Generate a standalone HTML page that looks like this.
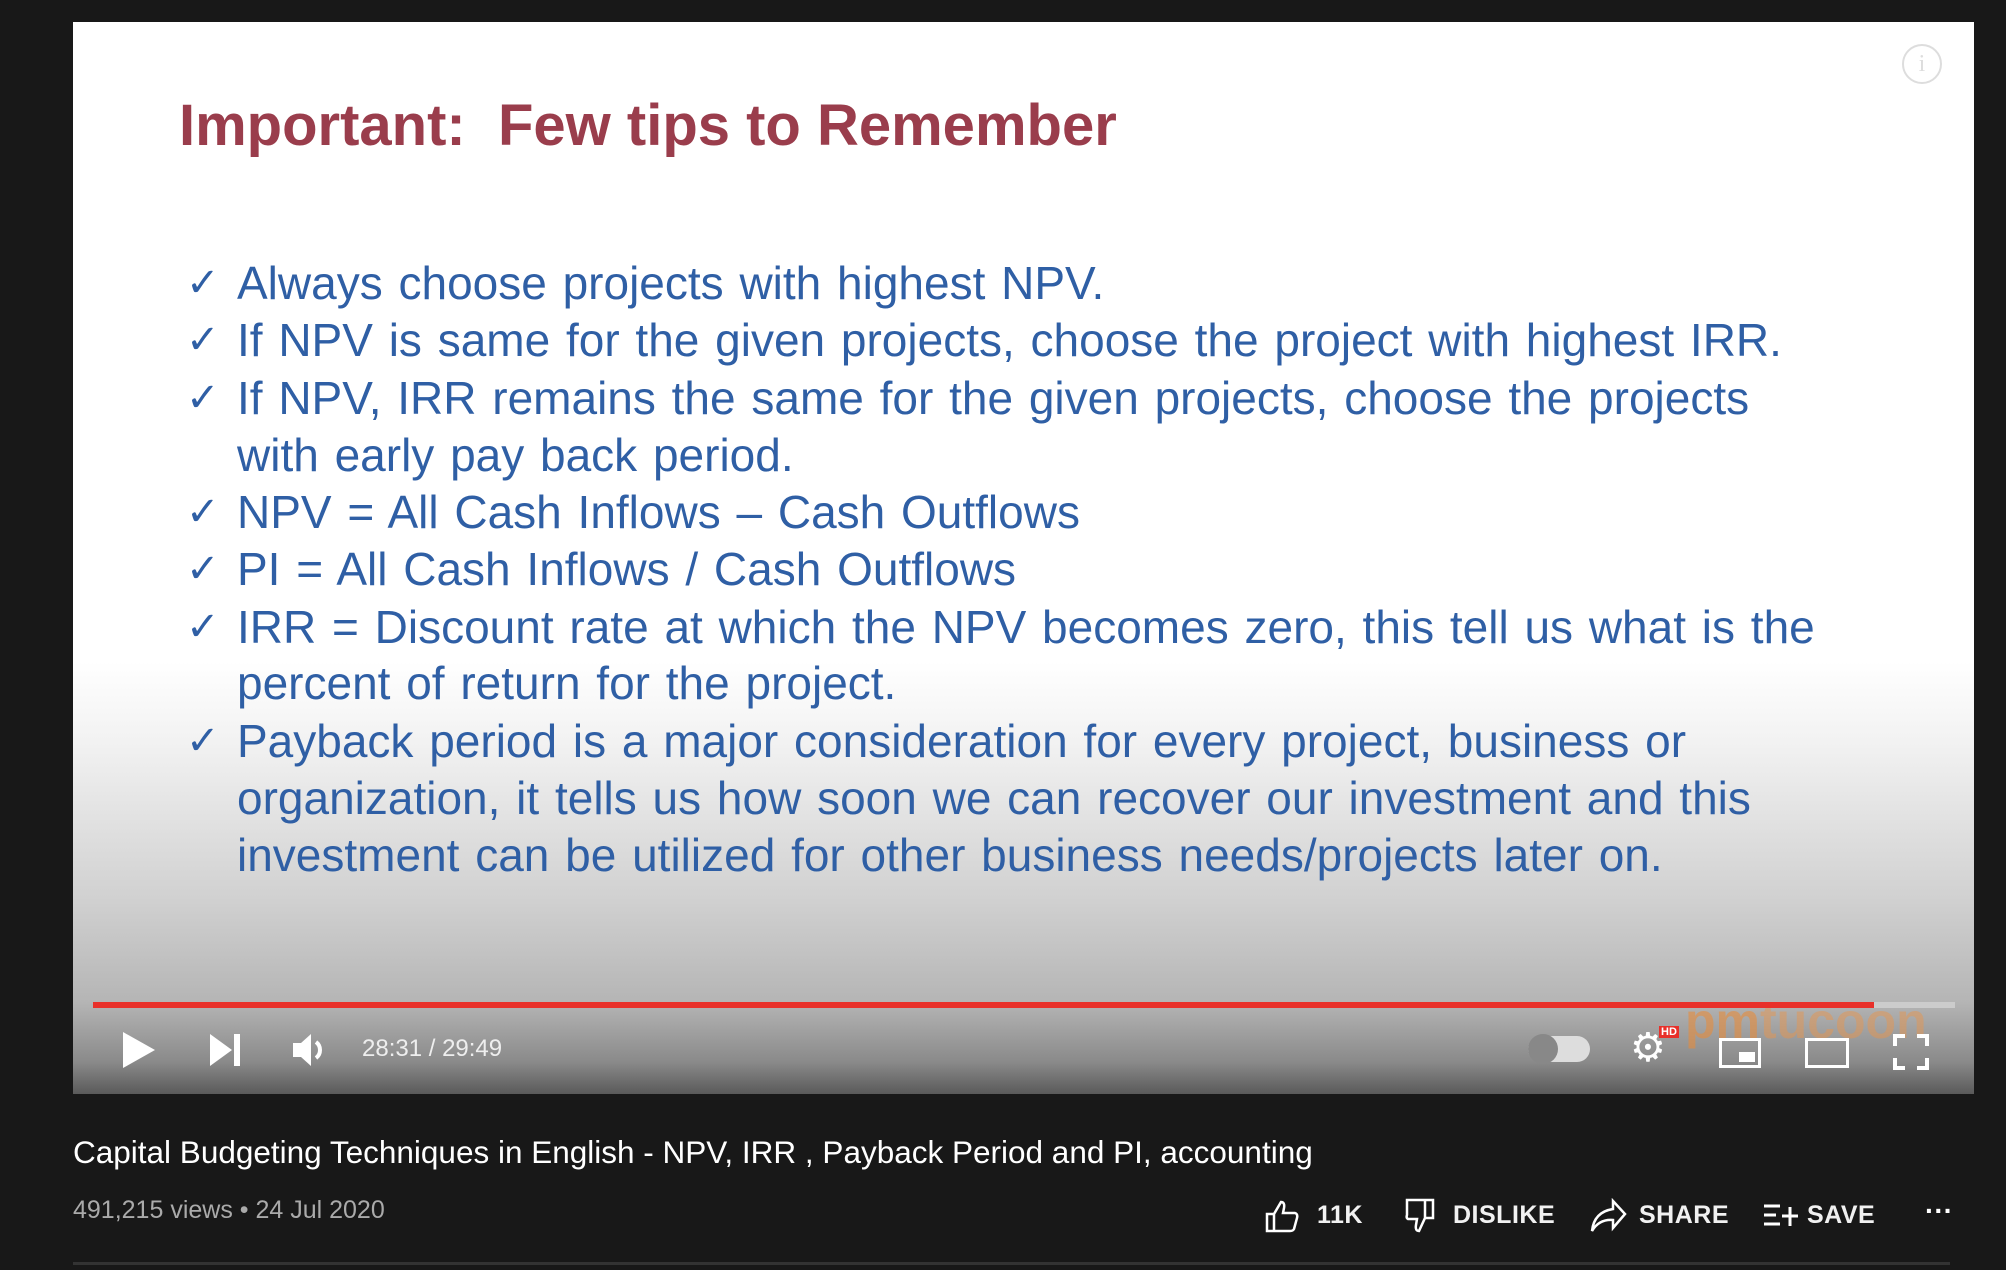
<!DOCTYPE html>
<html><head><meta charset="utf-8">
<style>
body{margin:0;width:2006px;height:1270px;background:#181818;overflow:hidden;font-family:"Liberation Sans",sans-serif;position:relative}
.abs{position:absolute}
#video{left:73px;top:22px;width:1901px;height:1072px;background:linear-gradient(to bottom,#fff 0px,#fff 640px,#f2f2f2 720px,#d0d0d0 880px,#b5b5b5 980px,#8a8a8a 1040px,#5a5a5a 1072px);overflow:hidden}
.line{position:absolute;left:164px;font-size:46px;color:#2f5fa5;white-space:nowrap;height:56px;line-height:56px;word-spacing:3px}
.chk{position:absolute;left:113px;font-size:40px;color:#2f5fa5;height:56px;line-height:56px}
.ctl{position:absolute}
.btxt{position:absolute;color:#f1f1f1;font-weight:bold;font-size:25px;top:1201px;letter-spacing:0.5px}
</style></head><body>
<div id="video" class="abs">
 <div class="abs" style="left:106px;top:70px;font-size:58px;font-weight:bold;color:#9a3d4c;white-space:nowrap">Important:&nbsp; Few tips to Remember</div>
 <div class="chk" style="top:233px">✓</div>
 <div class="line" style="top:233px">Always choose projects with highest NPV.</div>
 <div class="chk" style="top:290px">✓</div>
 <div class="line" style="top:290px">If NPV is same for the given projects, choose the project with highest IRR.</div>
 <div class="chk" style="top:348px">✓</div>
 <div class="line" style="top:348px">If NPV, IRR remains the same for the given projects, choose the projects</div>
 <div class="line" style="top:405px">with early pay back period.</div>
 <div class="chk" style="top:462px">✓</div>
 <div class="line" style="top:462px">NPV = All Cash Inflows – Cash Outflows</div>
 <div class="chk" style="top:519px">✓</div>
 <div class="line" style="top:519px">PI = All Cash Inflows / Cash Outflows</div>
 <div class="chk" style="top:577px">✓</div>
 <div class="line" style="top:577px">IRR = Discount rate at which the NPV becomes zero, this tell us what is the</div>
 <div class="line" style="top:633px">percent of return for the project.</div>
 <div class="chk" style="top:691px">✓</div>
 <div class="line" style="top:691px">Payback period is a major consideration for every project, business or</div>
 <div class="line" style="top:748px">organization, it tells us how soon we can recover our investment and this</div>
 <div class="line" style="top:805px">investment can be utilized for other business needs/projects later on.</div>
 <div class="abs" style="left:1829px;top:22px;width:36px;height:36px;border:2px solid #ddd;border-radius:50%;color:#ddd;font-size:24px;text-align:center;line-height:36px;font-family:'Liberation Serif',serif">i</div>
 <div class="abs" style="left:1612px;top:970px;font-size:50px;font-weight:bold;color:rgba(230,140,60,0.6);white-space:nowrap">pm<span style="color:rgba(230,150,80,0.5)">tucoon</span></div>
 <div class="abs" style="left:20px;top:980px;width:1862px;height:6px;background:#ccc"></div>
 <div class="abs" style="left:20px;top:980px;width:1781px;height:6px;background:#e8302a"></div>
 <svg class="ctl" style="left:46px;top:1008px" width="40" height="40"><polygon points="4,2 36,20 4,38" fill="#fff"/></svg>
 <svg class="ctl" style="left:135px;top:1010px" width="36" height="36"><polygon points="2,2 24,18 2,34" fill="#fff"/><rect x="26" y="2" width="6" height="32" fill="#fff"/></svg>
 <svg class="ctl" style="left:218px;top:1008px" width="40" height="40"><polygon points="2,13 10,13 20,4 20,36 10,27 2,27" fill="#fff"/><path d="M25 12 A10 10 0 0 1 25 28" stroke="#fff" stroke-width="4" fill="none"/></svg>
 <div class="ctl" style="left:289px;top:1013px;font-size:24px;color:#eee">28:31 / 29:49</div>
 <div class="ctl" style="left:1455px;top:1014px;width:62px;height:26px;border-radius:13px;background:#ddd"><div style="position:absolute;left:0;top:-2px;width:30px;height:30px;border-radius:50%;background:#888"></div></div>
 <div class="ctl" style="left:1557px;top:1006px;font-size:40px;color:#fff;line-height:40px">⚙</div>
 <div class="ctl" style="left:1586px;top:1004px;background:#e8302a;color:#fff;font-size:11px;font-weight:bold;padding:0 2px">HD</div>
 <div class="ctl" style="left:1646px;top:1016px;width:36px;height:24px;border:3px solid #fff"><div style="position:absolute;right:3px;bottom:3px;width:16px;height:10px;background:#fff"></div></div>
 <div class="ctl" style="left:1732px;top:1016px;width:38px;height:24px;border:3px solid #fff"></div>
 <svg class="ctl" style="left:1820px;top:1012px" width="36" height="36"><path d="M2 12V2H12M24 2H34V12M34 24V34H24M12 34H2V24" stroke="#fff" stroke-width="4" fill="none"/></svg>
</div>
<div class="abs" style="left:73px;top:1134px;font-size:31.5px;color:#fff;white-space:nowrap">Capital Budgeting Techniques in English - NPV, IRR , Payback Period and PI, accounting</div>
<div class="abs" style="left:73px;top:1196px;font-size:25px;color:#aaa;white-space:nowrap">491,215 views • 24 Jul 2020</div>
<svg class="abs" style="left:1265px;top:1198px" width="36" height="36"><path d="M2 16H9V33H2Z M9 16 L16 4 Q20 4 19 10 L18 15 H30 Q33 16 32 20 L29 31 Q28 33 25 33 H9" stroke="#fff" stroke-width="2.5" fill="none"/></svg>
<div class="btxt" style="left:1317px">11K</div>
<svg class="abs" style="left:1405px;top:1198px" width="36" height="36"><path d="M2 2H28V20H20L14 33Q10 33 11 27L12 21H3Q1 20 2 17Z M20 2V20" stroke="#fff" stroke-width="2.5" fill="none"/></svg>
<div class="btxt" style="left:1453px">DISLIKE</div>
<svg class="abs" style="left:1589px;top:1198px" width="38" height="36"><path d="M24 3L36 16L24 30V22Q10 21 3 33Q5 14 24 11Z" stroke="#fff" stroke-width="2.5" fill="none"/></svg>
<div class="btxt" style="left:1639px">SHARE</div>
<svg class="abs" style="left:1762px;top:1202px" width="38" height="28"><path d="M2 4H18M2 13H14M2 22H18M20 14H36M28 5V24" stroke="#fff" stroke-width="3" fill="none"/></svg>
<div class="btxt" style="left:1807px">SAVE</div>
<div class="abs" style="left:1925px;top:1195px;font-size:28px;color:#fff;font-weight:bold">···</div>
<div class="abs" style="left:73px;top:1262px;width:1877px;height:3px;background:#333"></div>
</body></html>
